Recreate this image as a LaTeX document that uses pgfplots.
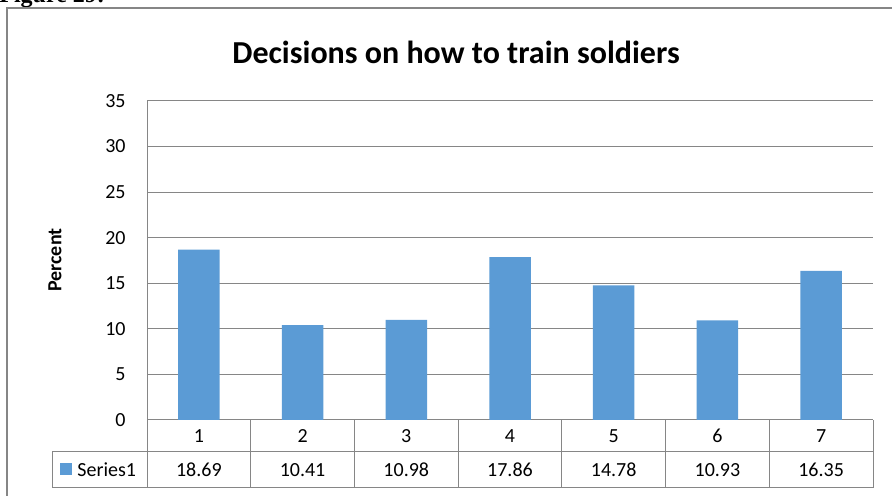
\documentclass[border=0pt]{standalone}
\usepackage{pgfplots}
\pgfplotsset{compat=1.18}
\usepackage{fontspec}
\setmainfont{Carlito}
\newfontfamily\figserif{Liberation Serif}
\definecolor{barblue}{HTML}{5B9BD5}
\definecolor{gridgray}{RGB}{134,134,134}
\begin{document}
\begin{tikzpicture}[x=1pt,y=1pt]
\useasboundingbox (0,0) rectangle (446,248);
% caption fragment and outer border
\node[anchor=base west, inner sep=0pt, font=\figserif\bfseries\fontsize{12}{14}\selectfont] at (-0.5,246.8) {Figure 29:};
\draw[gridgray, line width=0.6pt] (3.5,-10) -- (3.5,244) -- (460,244);
\begin{axis}[
  at={(73.5pt,38pt)}, anchor=south west,
  scale only axis, width=363pt, height=159.5pt,
  xmin=0.5, xmax=7.5, ymin=0, ymax=35,
  ytick={0,5,...,35}, xtick=\empty,
  ymajorgrids, grid style={draw=gridgray, line width=0.5pt},
  axis x line*=bottom, axis y line*=left,
  axis line style={draw=gridgray, line width=0.5pt, -},
  major tick length=0pt,
  yticklabel style={font=\fontsize{10}{12}\selectfont, anchor=east, inner sep=0pt, xshift=-10.5pt},
  /pgf/number format/assume math mode=true,
  ybar, bar width=0.4,
  clip=false,
]
\addplot[fill=barblue, draw=none] coordinates {(1,18.69) (2,10.41) (3,10.98) (4,17.86) (5,14.78) (6,10.93) (7,16.35)};
\end{axis}
% title and y label
\node[font=\bfseries\fontsize{16}{19}\selectfont] at (228,222) {Decisions on how to train soldiers};
\node[rotate=90, font=\bfseries\fontsize{10}{12}\selectfont] at (27.5,118) {Percent};
% data table
\begin{scope}[gridgray, line width=0.5pt]
  \draw (26,22) -- (436.5,22);
  \draw (26,4) -- (436.5,4);
  \draw (26,4) -- (26,22);
  \foreach \k in {0,...,7} {
    \draw ({73.5+\k*51.857},4) -- ({73.5+\k*51.857},38);
  }
\end{scope}
\foreach \k/\v in {1/18.69,2/10.41,3/10.98,4/17.86,5/14.78,6/10.93,7/16.35} {
  \node[font=\fontsize{10}{12}\selectfont] at ({73.5+(\k-0.5)*51.857},30) {\k};
  \node[font=\fontsize{10}{12}\selectfont] at ({73.5+(\k-0.5)*51.857},13) {\v};
}
\fill[barblue] (30,10.5) rectangle (36,16.5);
\node[anchor=west, inner sep=0pt, font=\fontsize{10}{12}\selectfont] at (38.5,13) {Series1};
\end{tikzpicture}
\end{document}
